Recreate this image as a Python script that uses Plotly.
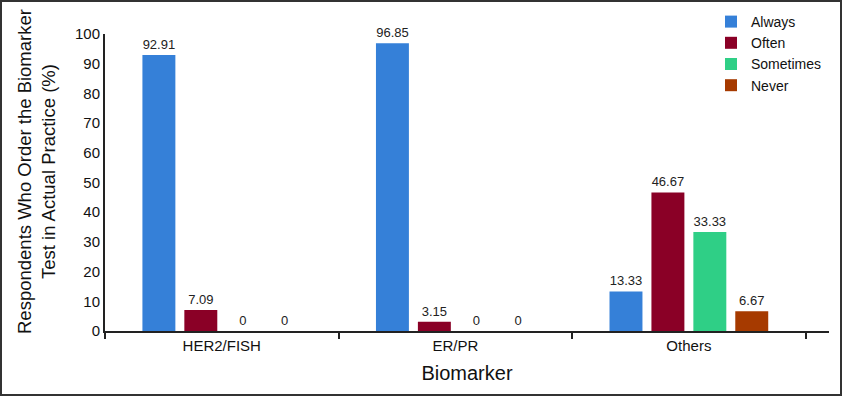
import plotly.graph_objects as go

categories = ["HER2/FISH", "ER/PR", "Others"]
always = [92.91, 96.85, 13.33]
often = [7.09, 3.15, 46.67]
sometimes = [0, 0, 33.33]
never = [0, 0, 6.67]
series_names = ["Always", "Often", "Sometimes", "Never"]
colors = ["#3580D8", "#8A0026", "#2FCF86", "#A63A00"]
yticks = [0, 10, 20, 30, 40, 50, 60, 70, 80, 90, 100]

W, H = 843, 397
ml, mr, mt, mb = 105, 14, 34, 66
pw, ph = W - ml - mr, H - mt - mb

fig = go.Figure()
for name, vals, col in zip(series_names, [always, often, sometimes, never], colors):
    fig.add_trace(go.Bar(
        x=categories, y=vals, name=name, marker_color=col, marker_line_width=0,
        text=[f"{v:g}" for v in vals], texttemplate="%{text}",
        textposition="outside", cliponaxis=False,
        textfont=dict(size=13, color="#222"),
    ))

font = "Liberation Sans, Arial, sans-serif"
fig.update_layout(
    width=W, height=H,
    margin=dict(l=ml, r=mr, t=mt, b=mb, autoexpand=False),
    paper_bgcolor="white", plot_bgcolor="white",
    barmode="group", bargap=0.282, bargroupgap=0.214,
    font=dict(family=font, color="#111"),
    legend=dict(x=(711 - ml) / pw, y=(H - mb - 6) / ph,
                xanchor="left", yanchor="top", font=dict(size=14), bgcolor="rgba(0,0,0,0)"),
    xaxis=dict(range=[-0.5, 2.6], showline=True, linecolor="#222", linewidth=2,
               ticks="outside", tickson="boundaries", ticklen=6, tickcolor="#222", tickwidth=2,
               tickfont=dict(size=15), showgrid=False, automargin=False,
               title=dict(text="Biomarker", font=dict(size=20), standoff=13)),
    yaxis=dict(range=[0, 100], tickvals=yticks, showline=True, linecolor="#222", linewidth=2,
               ticks="", showgrid=False, zeroline=False, tickfont=dict(size=15), automargin=False),
    shapes=[dict(type="rect", xref="paper", yref="paper",
                 x0=(1 - ml) / pw, x1=(W - 2 - ml) / pw,
                 y0=(H - mb - (H - 2)) / ph, y1=(H - mb - 1) / ph,
                 line=dict(color="#333", width=2), fillcolor="rgba(0,0,0,0)")],
    annotations=[dict(text="Respondents Who Order the Biomarker<br>Test in Actual Practice (%)",
                      textangle=-90, xref="paper", yref="paper",
                      x=(36 - ml) / pw, y=(H - mb - 172) / ph, xanchor="center", yanchor="middle",
                      showarrow=False, font=dict(size=18.5), align="center")],
)

fig.write_html("out.html", config={"displayModeBar": False},
               post_script="document.body.style.margin='0';document.body.style.overflow='hidden';")
